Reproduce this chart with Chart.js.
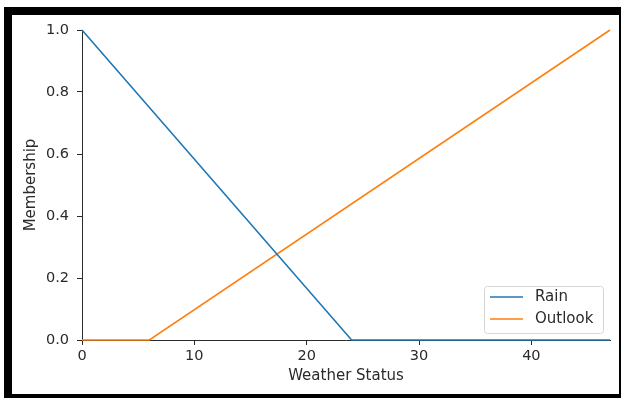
<!DOCTYPE html>
<html>
<head>
<meta charset="utf-8">
<script src="https://cdn.jsdelivr.net/npm/chart.js@4"></script>
<style>
  html, body { margin: 0; padding: 0; background: #fff; }
  #frame {
    position: absolute; left: 4px; top: 7px; width: 607px; height: 379px;
    border-left: 8px solid #000; border-top: 8px solid #000;
    border-right: 2px solid #000; border-bottom: 4px solid #000;
    background: #fff;
  }
  #wrap { position: absolute; left: 0; top: 0; width: 621px; height: 398px; }
</style>
</head>
<body>
<div id="frame"></div>
<div id="wrap"><canvas id="fuzzyChart"></canvas></div>
<script>
const seriesNames = ["Rain", "Outlook"];
const rainX = [0, 24, 47];
const rainY = [1, 0, 0];
const outlookX = [0, 6, 47];
const outlookY = [0, 0, 1];
const xTicks = [0, 10, 20, 30, 40];
const yTicks = [0, 0.2, 0.4, 0.6, 0.8, 1.0];

const lineColors = ["#1f77b4", "#ff7f0e"];
const textColor = "#2a2a2a";
const fontFamily = "'DejaVu Sans', sans-serif";

function toPoints(xs, ys) {
  return xs.map((x, i) => ({ x: x, y: ys[i] }));
}

// matplotlib style legend box in the lower right of the plot
const legendBox = {
  id: "legendBox",
  afterDatasetsDraw(chart) {
    const ctx = chart.ctx;
    const area = chart.chartArea;
    const w = 119, h = 47;
    const x0 = area.right - 7 - w;
    const y0 = area.bottom - 7 - h;
    ctx.save();
    ctx.beginPath();
    ctx.roundRect(x0 + 0.5, y0 + 0.5, w, h, 3);
    ctx.fillStyle = "rgba(255,255,255,0.8)";
    ctx.fill();
    ctx.strokeStyle = "#d6d6d6";
    ctx.lineWidth = 1;
    ctx.stroke();
    ctx.font = "15px " + fontFamily;
    ctx.textBaseline = "middle";
    chart.data.datasets.forEach((ds, i) => {
      const cy = y0 + 11 + i * 22;
      ctx.beginPath();
      ctx.moveTo(x0 + 6, cy);
      ctx.lineTo(x0 + 39, cy);
      ctx.strokeStyle = ds.borderColor;
      ctx.lineWidth = 1.5;
      ctx.stroke();
      ctx.fillStyle = textColor;
      ctx.fillText(ds.label, x0 + 51, cy);
    });
    ctx.restore();
  }
};

const ctx = document.getElementById("fuzzyChart").getContext("2d");
new Chart(ctx, {
  type: "line",
  data: {
    datasets: [
      {
        label: seriesNames[0],
        data: toPoints(rainX, rainY),
        borderColor: lineColors[0],
        borderWidth: 1.6,
        pointRadius: 0,
        tension: 0,
        clip: 4
      },
      {
        label: seriesNames[1],
        data: toPoints(outlookX, outlookY),
        borderColor: lineColors[1],
        borderWidth: 1.6,
        pointRadius: 0,
        tension: 0,
        clip: 4
      }
    ]
  },
  options: {
    responsive: true,
    maintainAspectRatio: false,
    animation: false,
    events: [],
    layout: { padding: { left: 22, right: 11, top: 30, bottom: 9 } },
    plugins: {
      legend: { display: false },
      tooltip: { enabled: false }
    },
    scales: {
      x: {
        type: "linear",
        min: 0,
        max: 47,
        afterFit: (s) => { s.height = 49; },
        afterBuildTicks: (s) => { s.ticks = xTicks.map((v) => ({ value: v })); },
        ticks: {
          includeBounds: false,
          padding: 3,
          color: textColor,
          font: { family: fontFamily, size: 14.5 },
          maxRotation: 0
        },
        grid: { drawOnChartArea: false, drawTicks: true, tickLength: 5, tickColor: textColor },
        border: { display: true, color: textColor, width: 1 },
        title: {
          display: true,
          text: "Weather Status",
          color: textColor,
          font: { family: fontFamily, size: 15 },
          padding: { top: 4, bottom: 4 }
        }
      },
      y: {
        type: "linear",
        min: 0,
        max: 1,
        afterFit: (s) => { s.width = 60; },
        afterBuildTicks: (s) => { s.ticks = yTicks.map((v) => ({ value: v })); },
        ticks: {
          padding: 8,
          color: textColor,
          font: { family: fontFamily, size: 14.5 },
          callback: (v) => Number(v).toFixed(1)
        },
        grid: { drawOnChartArea: false, drawTicks: true, tickLength: 5, tickColor: textColor },
        border: { display: true, color: textColor, width: 1 },
        title: {
          display: true,
          text: "Membership",
          color: textColor,
          font: { family: fontFamily, size: 15 },
          padding: { top: 0, bottom: 4 }
        }
      }
    }
  },
  plugins: [legendBox]
});
</script>
</body>
</html>
